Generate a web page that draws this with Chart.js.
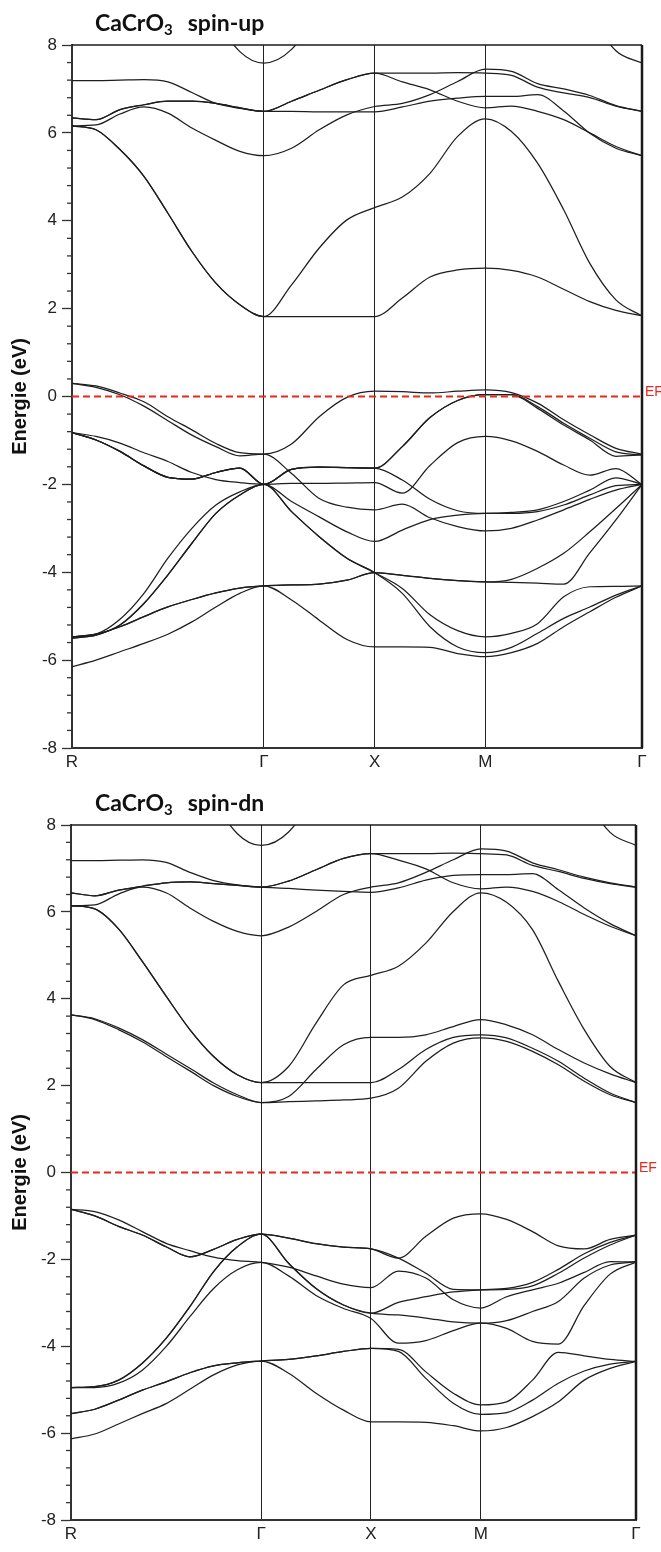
<!DOCTYPE html>
<html><head><meta charset="utf-8">
<script src="https://cdn.jsdelivr.net/npm/chart.js@4.4.1/dist/chart.umd.min.js"></script>
<style>
html,body{margin:0;padding:0;background:#fff;}
#w1{position:absolute;left:0;top:0;width:661px;height:780px;}
#w2{position:absolute;left:0;top:780px;width:661px;height:772px;}
</style></head><body>
<div id="w1"><canvas id="c1" width="661" height="780"></canvas></div>
<div id="w2"><canvas id="c2" width="661" height="772"></canvas></div>
<script>
// k-path sampling (R-Γ, Γ-X, X-M, M-Γ)
const kPath = [0, 0.2165, 0.4330, 0.6495, 0.8660, 1.0825, 1.2990, 1.5155, 1.7321,
  1.9821, 2.2321, 2.4821, 2.7321,
  2.9821, 3.2321, 3.4821, 3.7321,
  3.9678, 4.2035, 4.4392, 4.6749, 4.9106, 5.1463];
const kTicks = [0, 1.7321, 2.7321, 3.7321, 5.1463];
const kLabels = ['R', 'Γ', 'X', 'M', 'Γ'];
const yMajorTicks = [-8, -6, -4, -2, 0, 2, 4, 6, 8];
const fermiLevel = 0;

// ---- spin-up bands ----
const upC1 = [12, 11.5, 11, 10.5, 10.2, 9.96, 8.64, 7.85, 7.59, 7.90, 8.82, 10.3, 11, 11, 11, 11, 11, 11, 11, 10.1, 8.72, 7.87, 7.59];
const upC2 = [7.19, 7.19, 7.20, 7.21, 7.16, 6.92, 6.67, 6.56, 6.49, 6.72, 6.97, 7.21, 7.36, 7.36, 7.36, 7.37, 7.36, 7.31, 7.04, 6.91, 6.80, 6.61, 6.49];
const upC3 = [6.34, 6.30, 6.53, 6.64, 6.72, 6.72, 6.67, 6.57, 6.49, 6.49, 6.48, 6.48, 6.48, 6.59, 6.72, 6.79, 6.83, 6.83, 6.87, 6.50, 5.99, 5.65, 5.48];
const upC4 = [6.16, 6.18, 6.43, 6.59, 6.45, 6.11, 5.83, 5.58, 5.48, 5.65, 6.07, 6.41, 6.60, 6.67, 6.87, 7.17, 7.45, 7.40, 7.12, 7.00, 6.85, 6.62, 6.49];
const upC5 = [6.34, 6.30, 6.53, 6.64, 6.72, 6.72, 6.67, 6.57, 6.49, 6.72, 6.97, 7.21, 7.36, 7.16, 6.98, 6.72, 6.57, 6.61, 6.49, 6.30, 6.00, 5.69, 5.48];
const upC6 = [6.16, 6.07, 5.62, 5.01, 4.17, 3.30, 2.58, 2.09, 1.82, 2.54, 3.38, 4.02, 4.30, 4.54, 5.08, 5.92, 6.32, 6.03, 5.31, 4.25, 3.03, 2.20, 1.83];
const upC7 = [6.16, 6.07, 5.62, 5.01, 4.17, 3.30, 2.58, 2.09, 1.82, 1.82, 1.82, 1.82, 1.82, 2.24, 2.72, 2.88, 2.92, 2.87, 2.72, 2.44, 2.16, 1.96, 1.84];
const upV1 = [0.30, 0.24, 0.08, -0.12, -0.46, -0.76, -1.07, -1.28, -1.31, -1.08, -0.46, -0.02, 0.12, 0.11, 0.08, 0.12, 0.15, 0.09, -0.15, -0.53, -0.87, -1.18, -1.31];
const upV2 = [0.30, 0.21, 0.04, -0.22, -0.55, -0.88, -1.14, -1.35, -1.31, -1.75, -2.32, -2.52, -2.58, -2.45, -2.76, -2.96, -3.06, -3.00, -2.81, -2.58, -2.34, -2.13, -2.00];
const upV3 = [-0.82, -0.99, -1.25, -1.58, -1.84, -1.88, -1.73, -1.63, -2.00, -1.66, -1.61, -1.62, -1.63, -1.14, -0.48, -0.09, 0.04, 0.04, -0.23, -0.61, -0.95, -1.26, -1.33];
const upV4 = [-0.82, -0.91, -1.06, -1.28, -1.48, -1.73, -1.89, -1.96, -2.00, -1.98, -1.98, -1.97, -1.96, -2.20, -1.57, -1.05, -0.91, -1.01, -1.25, -1.56, -1.79, -1.64, -2.00];
const upV5 = [-5.47, -5.41, -5.07, -4.48, -3.68, -3.00, -2.47, -2.17, -2.00, -2.39, -2.74, -3.08, -3.30, -3.04, -2.80, -2.70, -2.66, -2.66, -2.62, -2.47, -2.24, -2.03, -2.00];
const upV6 = [-5.50, -5.43, -5.20, -4.71, -4.06, -3.34, -2.66, -2.24, -2.00, -2.62, -3.19, -3.68, -4.01, -4.37, -4.97, -5.33, -5.47, -5.39, -5.17, -4.56, -4.33, -4.32, -4.31];
const upV7 = [-5.47, -5.41, -5.24, -5.01, -4.79, -4.62, -4.47, -4.36, -4.31, -4.29, -4.27, -4.18, -4.01, -4.07, -4.14, -4.19, -4.22, -4.16, -3.91, -3.57, -3.08, -2.55, -2.00];
const upV8 = [-6.15, -6.00, -5.81, -5.62, -5.41, -5.13, -4.79, -4.48, -4.31, -4.63, -5.09, -5.53, -5.70, -5.70, -5.71, -5.85, -5.92, -5.83, -5.62, -5.24, -4.90, -4.57, -4.31];
const upV9 = [-0.82, -0.99, -1.25, -1.58, -1.84, -1.88, -1.73, -1.63, -2.00, -1.66, -1.61, -1.62, -1.63, -1.90, -2.34, -2.60, -2.66, -2.64, -2.58, -2.39, -2.13, -1.85, -2.00];
const upV10 = [-0.82, -0.99, -1.25, -1.58, -1.84, -1.88, -1.73, -1.63, -2.00, -1.66, -1.61, -1.62, -1.63, -1.14, -0.48, -0.09, 0.04, 0.04, -0.27, -0.65, -0.99, -1.36, -1.33];
const upV11 = [-5.47, -5.41, -5.24, -5.01, -4.79, -4.62, -4.47, -4.36, -4.31, -4.29, -4.27, -4.18, -4.01, -4.07, -4.14, -4.19, -4.22, -4.23, -4.25, -4.27, -3.56, -2.81, -2.00];
const upV12 = [-5.50, -5.43, -5.20, -4.71, -4.06, -3.34, -2.66, -2.24, -2.00, -2.62, -3.19, -3.68, -4.01, -4.48, -5.24, -5.70, -5.83, -5.71, -5.39, -5.05, -4.79, -4.52, -4.31];

// ---- spin-down bands ----
const dnC1 = [12, 11.5, 11, 10.5, 10.2, 9.98, 8.62, 7.80, 7.53, 7.84, 8.77, 10.2, 11, 11, 11, 11, 11, 11, 11, 10.2, 8.71, 7.83, 7.53];
const dnC2 = [7.18, 7.18, 7.19, 7.20, 7.14, 6.91, 6.72, 6.62, 6.57, 6.71, 6.97, 7.23, 7.34, 7.34, 7.34, 7.35, 7.34, 7.31, 7.07, 6.93, 6.77, 6.65, 6.57];
const dnC3 = [6.44, 6.37, 6.50, 6.59, 6.67, 6.69, 6.65, 6.61, 6.57, 6.54, 6.50, 6.47, 6.45, 6.55, 6.73, 6.84, 6.86, 6.86, 6.88, 6.51, 6.09, 5.73, 5.45];
const dnC4 = [6.14, 6.16, 6.41, 6.57, 6.44, 6.09, 5.78, 5.55, 5.45, 5.65, 6.01, 6.40, 6.57, 6.67, 6.91, 7.20, 7.45, 7.40, 7.13, 6.97, 6.80, 6.67, 6.57];
const dnC5 = [6.44, 6.37, 6.50, 6.59, 6.67, 6.69, 6.65, 6.61, 6.57, 6.71, 6.97, 7.23, 7.34, 7.19, 6.99, 6.67, 6.53, 6.57, 6.47, 6.24, 5.94, 5.67, 5.45];
const dnC6 = [6.14, 6.07, 5.61, 4.86, 4.06, 3.29, 2.67, 2.25, 2.07, 2.44, 3.44, 4.32, 4.54, 4.75, 5.28, 6.01, 6.44, 6.22, 5.59, 4.40, 3.29, 2.44, 2.07];
const dnC7 = [6.14, 6.07, 5.61, 4.86, 4.06, 3.29, 2.67, 2.25, 2.07, 2.07, 2.07, 2.07, 2.07, 2.37, 2.83, 3.11, 3.17, 3.10, 2.86, 2.56, 2.17, 1.83, 1.61];
const dnC8 = [3.63, 3.54, 3.33, 3.06, 2.73, 2.40, 2.06, 1.79, 1.61, 1.75, 2.37, 2.94, 3.11, 3.11, 3.17, 3.36, 3.52, 3.40, 3.17, 2.83, 2.52, 2.27, 2.07];
const dnC9 = [3.63, 3.52, 3.29, 3.01, 2.67, 2.34, 2.00, 1.75, 1.61, 1.63, 1.65, 1.67, 1.71, 1.94, 2.56, 2.98, 3.10, 3.02, 2.79, 2.48, 2.10, 1.79, 1.61];
const dnV1 = [-0.85, -1.00, -1.24, -1.44, -1.71, -1.94, -1.77, -1.54, -1.42, -1.51, -1.64, -1.72, -1.76, -1.97, -1.47, -1.05, -0.95, -1.08, -1.36, -1.69, -1.76, -1.54, -1.44];
const dnV2 = [-4.95, -4.93, -4.78, -4.39, -3.82, -3.09, -2.28, -1.71, -1.42, -2.09, -2.67, -3.05, -3.24, -2.99, -2.86, -2.75, -2.70, -2.67, -2.53, -2.23, -1.87, -1.61, -1.44];
const dnV3 = [-0.85, -0.90, -1.09, -1.36, -1.63, -1.80, -1.95, -2.03, -2.07, -2.18, -2.38, -2.57, -2.65, -2.27, -2.43, -2.93, -3.12, -2.86, -2.70, -2.55, -2.30, -2.05, -2.06];
const dnV4 = [-4.95, -4.95, -4.85, -4.55, -4.01, -3.32, -2.67, -2.24, -2.07, -2.38, -2.83, -3.13, -3.36, -3.93, -3.87, -3.64, -3.47, -3.59, -3.89, -3.95, -3.06, -2.34, -2.06];
const dnV5 = [-5.55, -5.45, -5.24, -5.01, -4.82, -4.61, -4.45, -4.38, -4.34, -4.30, -4.22, -4.12, -4.05, -4.07, -4.59, -5.08, -5.35, -5.28, -4.78, -4.14, -4.22, -4.30, -4.35];
const dnV6 = [-6.13, -6.02, -5.79, -5.55, -5.32, -4.99, -4.66, -4.43, -4.34, -4.62, -5.08, -5.47, -5.74, -5.74, -5.75, -5.83, -5.95, -5.87, -5.62, -5.28, -4.78, -4.51, -4.35];
const dnV7 = [-0.85, -1.00, -1.24, -1.44, -1.71, -1.94, -1.77, -1.54, -1.42, -1.51, -1.64, -1.72, -1.76, -1.97, -2.32, -2.69, -2.70, -2.69, -2.61, -2.32, -1.97, -1.67, -1.44];
const dnV8 = [-4.95, -4.93, -4.78, -4.39, -3.82, -3.09, -2.28, -1.71, -1.42, -2.09, -2.67, -3.05, -3.24, -3.28, -3.35, -3.44, -3.47, -3.41, -3.20, -2.97, -2.43, -2.13, -2.06];
const dnV9 = [-5.55, -5.45, -5.24, -5.01, -4.82, -4.61, -4.45, -4.38, -4.34, -4.30, -4.22, -4.12, -4.05, -4.12, -4.74, -5.31, -5.57, -5.53, -5.24, -4.85, -4.57, -4.41, -4.35];

const spinUpBands = [upC1, upC2, upC3, upC4, upC5, upC6, upC7, upV1, upV2, upV3, upV4, upV5, upV6, upV7, upV8, upV9, upV10, upV11, upV12];
const spinDnBands = [dnC1, dnC2, dnC3, dnC4, dnC5, dnC6, dnC7, dnC8, dnC9, dnV1, dnV2, dnV3, dnV4, dnV5, dnV6, dnV7, dnV8, dnV9];

const BAND_COLOR = '#1e1e1e';
const EF_COLOR = '#e8271f';

function makeDatasets(bands) {
  const ds = [{
    data: [{x: kTicks[0], y: fermiLevel}, {x: kTicks[kTicks.length - 1], y: fermiLevel}],
    borderColor: EF_COLOR, borderWidth: 2, borderDash: [7, 4], pointRadius: 0, tension: 0
  }];
  bands.forEach(b => ds.push({
    data: kPath.map((k, i) => ({x: k, y: b[i]})),
    borderColor: BAND_COLOR, borderWidth: 1.25, pointRadius: 0,
    cubicInterpolationMode: 'monotone', fill: false
  }));
  return ds;
}

const decorPlugin = {
  id: 'decor',
  afterDraw(chart, args, opts) {
    const ctx = chart.ctx, a = chart.chartArea, ys = chart.scales.y;
    ctx.save();
    // minor ticks
    ctx.strokeStyle = '#333'; ctx.lineWidth = 1.3;
    for (let v = -8; v <= 8.001; v += 0.4) {
      const r = Math.round(v * 10) / 10;
      if (Math.abs(r / 2 - Math.round(r / 2)) < 1e-6) continue;
      const py = ys.getPixelForValue(r);
      ctx.beginPath(); ctx.moveTo(a.left - 5, py); ctx.lineTo(a.left, py); ctx.stroke();
    }
    // frame top / right
    ctx.strokeStyle = '#1a1a1a';
    ctx.lineWidth = 1.5;
    ctx.beginPath(); ctx.moveTo(a.left, a.top); ctx.lineTo(a.right, a.top); ctx.stroke();
    ctx.lineWidth = 2.5;
    ctx.beginPath(); ctx.moveTo(a.right, a.top); ctx.lineTo(a.right, a.bottom); ctx.stroke();
    // EF label
    ctx.fillStyle = EF_COLOR;
    ctx.font = '14px "Liberation Sans", Arial, sans-serif';
    ctx.textBaseline = 'middle'; ctx.textAlign = 'left';
    ctx.fillText('EF', a.right + 3, ys.getPixelForValue(fermiLevel) - 4);
    // title
    ctx.fillStyle = '#111';
    ctx.textBaseline = 'alphabetic';
    let x = opts.x, y = opts.y;
    ctx.font = 'bold 23px Lato, "Open Sans", sans-serif';
    ctx.fillText(opts.main, x, y); x += ctx.measureText(opts.main).width;
    ctx.font = 'bold 15px Lato, "Open Sans", sans-serif';
    ctx.fillText(opts.sub, x, y + 4); x += ctx.measureText(opts.sub).width;
    ctx.font = 'bold 23px Lato, "Open Sans", sans-serif';
    ctx.fillText(opts.suffix, x + 15, y);
    ctx.restore();
  }
};

function makeChart(id, bands, padRight, yAxisW, titleOpts) {
  return new Chart(document.getElementById(id), {
    type: 'line',
    data: {datasets: makeDatasets(bands)},
    plugins: [decorPlugin],
    options: {
      responsive: false, animation: false, devicePixelRatio: 1, events: [],
      layout: {padding: {top: 45, right: padRight, left: 0, bottom: 0}},
      plugins: {legend: {display: false}, tooltip: {enabled: false}, decor: titleOpts},
      scales: {
        x: {
          type: 'linear', min: kTicks[0], max: kTicks[kTicks.length - 1],
          afterBuildTicks: s => { s.ticks = kTicks.map(v => ({value: v})); },
          afterFit: s => { s.height = 32; },
          ticks: {callback: (v, i) => kLabels[i], autoSkip: false, maxRotation: 0,
            font: {family: '"Liberation Sans", Arial, sans-serif', size: 17}, color: '#222', padding: 4},
          grid: {color: '#222', lineWidth: 1, drawTicks: false},
          border: {color: '#333', width: 2}
        },
        y: {
          min: -8, max: 8,
          afterBuildTicks: s => { s.ticks = yMajorTicks.map(v => ({value: v})); },
          afterFit: s => { s.width = yAxisW; },
          ticks: {font: {family: '"Liberation Sans", Arial, sans-serif', size: 17}, color: '#222', padding: 5},
          grid: {drawOnChartArea: false, drawTicks: true, tickLength: 10, tickColor: '#333', tickWidth: 1.3},
          border: {color: '#333', width: 2},
          title: {display: true, text: 'Energie (eV)', color: '#111',
            font: {family: '"Liberation Sans", Arial, sans-serif', size: 20, weight: 'bold'},
            padding: {top: 8, bottom: 0}}
        }
      }
    }
  });
}

makeChart('c1', spinUpBands, 19, 72, {main: 'CaCrO', sub: '3', suffix: 'spin-up', x: 95, y: 31});
makeChart('c2', spinDnBands, 25, 71, {main: 'CaCrO', sub: '3', suffix: 'spin-dn', x: 95, y: 31});
</script>
</body></html>
